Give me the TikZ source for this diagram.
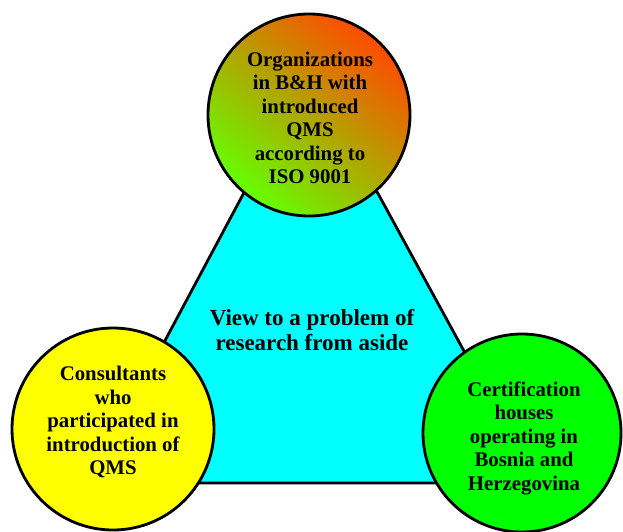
\documentclass[tikz,border=0pt]{standalone}
\usepackage{fontspec}
\setmainfont{Liberation Serif}
\begin{document}
\begin{tikzpicture}[x=1pt,y=-1pt,
  outl/.style={draw=black,line width=2.8pt,line join=round},
  lbl/.style={align=center,font=\fontsize{20.8}{23.5}\selectfont\bfseries,text=black,inner sep=0pt},
  clbl/.style={align=center,font=\fontsize{23}{25}\selectfont\bfseries,text=black,inner sep=0pt}]
\useasboundingbox (0,0) rectangle (623,532);
% triangle
\coordinate (ta) at (310,69);
\coordinate (tl) at (89,483);
\coordinate (tr) at (536,483);
\path[outl,fill={rgb,255:red,0;green,255;blue,255}] (ta) -- (tl) -- (tr) -- cycle;
\node[clbl] (center) at (312,330) {View to a problem of\\research from aside};
% top circle
\shade[shading=axis,top color={rgb,255:red,255;green,75;blue,0},bottom color={rgb,255:red,100;green,255;blue,0},shading angle=-40]
  (309,115) circle (101);
\draw[outl] (309,115) circle (101);
\node[lbl] (top) at (310,118) {Organizations\\in B\&H with\\introduced\\QMS\\according to\\ISO 9001};
% left circle
\draw[outl,fill={rgb,255:red,255;green,255;blue,0}] (113,429) circle (101);
\node[lbl] (left) at (113,422) {Consultants\\who\\participated in\\introduction of\\QMS};
% right circle
\draw[outl,fill={rgb,255:red,0;green,255;blue,0}] (522,433) circle (99);
\node[lbl] (right) at (524,438) {Certification\\houses\\operating in\\Bosnia and\\Herzegovina};
\end{tikzpicture}
\end{document}
